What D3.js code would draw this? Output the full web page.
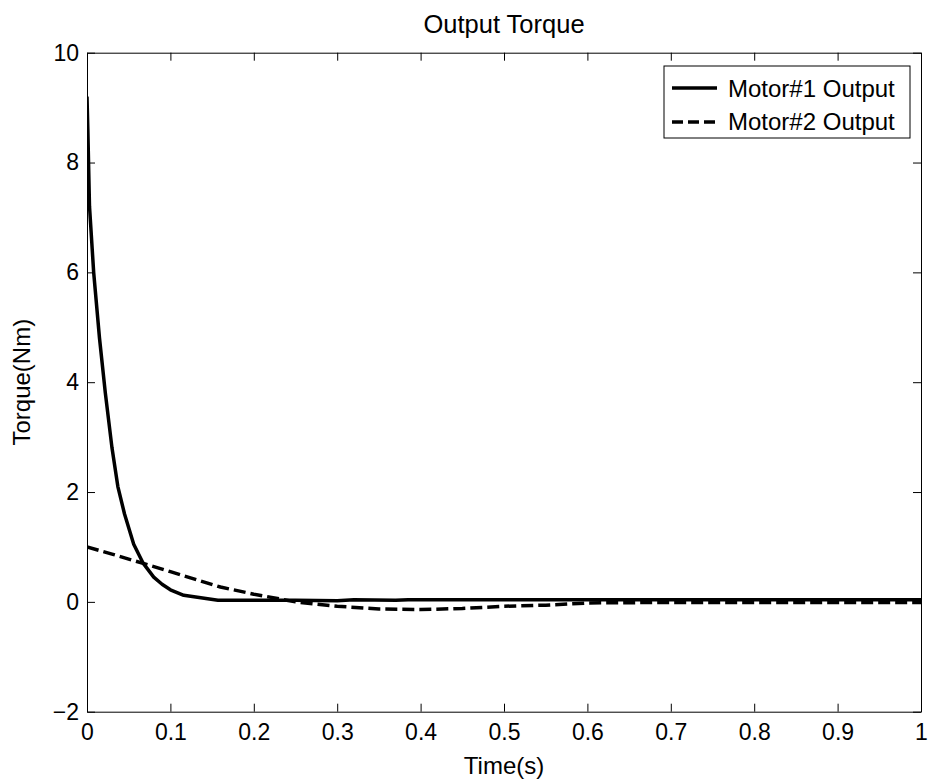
<!DOCTYPE html>
<html>
<head>
<meta charset="utf-8">
<script src="https://cdn.jsdelivr.net/npm/d3@7"></script>
<style>
  html, body { margin: 0; padding: 0; background: #fff; }
  svg { display: block; font-family: Arial, "Liberation Sans", Helvetica, sans-serif; }
</style>
</head>
<body>
<svg id="chart" width="930" height="783"></svg>
<script>
// Output torque of the two motors over time (s, Nm)
const motor1Time  = [0, 0.001, 0.003, 0.008, 0.015, 0.022, 0.03, 0.037, 0.045, 0.056, 0.0675, 0.08, 0.09, 0.1, 0.116, 0.157, 0.25, 0.3, 0.32, 0.37, 0.385, 0.5, 0.7, 1.0];
const motor1Value = [9.2, 8.6, 7.2, 6.0, 4.8, 3.8, 2.8, 2.1, 1.6, 1.05, 0.7, 0.45, 0.32, 0.22, 0.12, 0.03, 0.03, 0.02, 0.04, 0.03, 0.04, 0.04, 0.04, 0.04];

const motor2Time  = [0, 0.03, 0.0675, 0.1, 0.16, 0.2, 0.25, 0.3, 0.35, 0.4, 0.45, 0.5, 0.55, 0.6, 0.7, 0.85, 1.0];
const motor2Value = [1.0, 0.87, 0.70, 0.55, 0.27, 0.14, 0.0, -0.08, -0.13, -0.14, -0.12, -0.08, -0.06, -0.02, -0.01, -0.01, -0.01];

const xTicks = [0, 0.1, 0.2, 0.3, 0.4, 0.5, 0.6, 0.7, 0.8, 0.9, 1];
const yTicks = [-2, 0, 2, 4, 6, 8, 10];

const seriesNames = ["Motor#1 Output", "Motor#2 Output"];
const titleText = "Output Torque";
const xLabelText = "Time(s)";
const yLabelText = "Torque(Nm)";

const svg = d3.select("#chart");
const plot = { left: 87, right: 921, top: 52.7, bottom: 711.7 };
const tickFont = 23, labelFont = 24, titleFont = 25.5;
const tickLen = 8;

const x = d3.scaleLinear().domain([0, 1]).range([plot.left, plot.right]);
const y = d3.scaleLinear().domain([-2, 10]).range([plot.bottom, plot.top]);

// Axes: ticks point into the plot on all four sides
const fmt = d => d3.format("~g")(d);
const gBottom = svg.append("g").attr("transform", `translate(0,${plot.bottom})`)
  .call(d3.axisBottom(x).tickValues(xTicks).tickFormat(fmt).tickSizeInner(-tickLen).tickSizeOuter(0).tickPadding(12));
const gTop = svg.append("g").attr("transform", `translate(0,${plot.top})`)
  .call(d3.axisTop(x).tickValues(xTicks).tickFormat("").tickSizeInner(-tickLen).tickSizeOuter(0));
const gLeft = svg.append("g").attr("transform", `translate(${plot.left},0)`)
  .call(d3.axisLeft(y).tickValues(yTicks).tickFormat(fmt).tickSizeInner(-tickLen).tickSizeOuter(0).tickPadding(8));
const gRight = svg.append("g").attr("transform", `translate(${plot.right},0)`)
  .call(d3.axisRight(y).tickValues(yTicks).tickFormat("").tickSizeInner(-tickLen).tickSizeOuter(0));

[gBottom, gTop, gLeft, gRight].forEach(g => {
  g.selectAll("path.domain").attr("stroke", "#000").attr("stroke-width", 1);
  g.selectAll(".tick line").attr("stroke", "#000").attr("stroke-width", 1);
  g.selectAll("text").attr("fill", "#000").style("font-size", tickFont + "px")
    .style("font-family", "Arial, 'Liberation Sans', sans-serif");
});

// Series lines
svg.append("defs").append("clipPath").attr("id", "plotClip")
  .append("rect").attr("x", plot.left).attr("y", plot.top)
  .attr("width", plot.right - plot.left).attr("height", plot.bottom - plot.top);

const line = d3.line().x(d => x(d[0])).y(d => y(d[1]));
const motor1 = motor1Time.map((t, i) => [t, motor1Value[i]]);
const motor2 = motor2Time.map((t, i) => [t, motor2Value[i]]);

const lines = svg.append("g").attr("clip-path", "url(#plotClip)");
lines.append("path").datum(motor2).attr("d", line)
  .attr("fill", "none").attr("stroke", "#000").attr("stroke-width", 3.5)
  .attr("stroke-dasharray", "12,5");
lines.append("path").datum(motor1).attr("d", line)
  .attr("fill", "none").attr("stroke", "#000").attr("stroke-width", 3.5)
  .attr("stroke-linejoin", "round");

// Title and axis labels
svg.append("text").attr("x", (plot.left + plot.right) / 2).attr("y", 33)
  .attr("text-anchor", "middle").style("font-size", titleFont + "px").text(titleText);
svg.append("text").attr("x", (plot.left + plot.right) / 2).attr("y", 774)
  .attr("text-anchor", "middle").style("font-size", labelFont + "px").text(xLabelText);
svg.append("text").attr("transform", `translate(30,${(plot.top + plot.bottom) / 2}) rotate(-90)`)
  .attr("text-anchor", "middle").style("font-size", labelFont + "px").text(yLabelText);

// Legend
const legend = svg.append("g");
legend.append("rect").attr("x", 664).attr("y", 66).attr("width", 246).attr("height", 72)
  .attr("fill", "#fff").attr("stroke", "#000").attr("stroke-width", 1);
const legendRows = [
  { name: seriesNames[0], dash: null, ly: 88, ty: 97 },
  { name: seriesNames[1], dash: "11,5", ly: 122, ty: 130 }
];
legendRows.forEach(r => {
  const l = legend.append("line").attr("x1", 672).attr("x2", 717).attr("y1", r.ly).attr("y2", r.ly)
    .attr("stroke", "#000").attr("stroke-width", 3.5);
  if (r.dash) l.attr("stroke-dasharray", r.dash);
  legend.append("text").attr("x", 728).attr("y", r.ty).style("font-size", labelFont + "px").text(r.name);
});
</script>
</body>
</html>
